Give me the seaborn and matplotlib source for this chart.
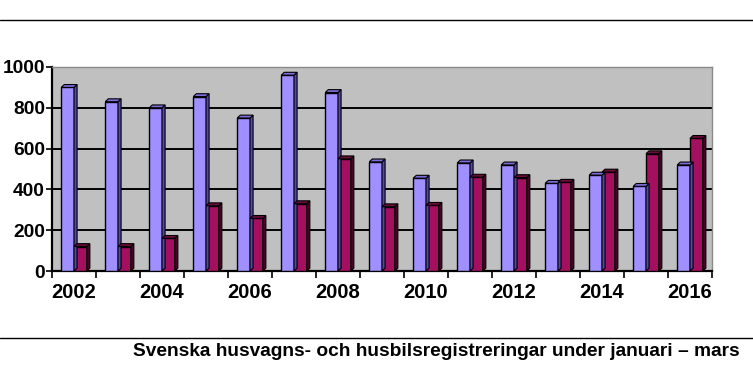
import numpy as np
import pandas as pd
import matplotlib.pyplot as plt
import seaborn as sns
from matplotlib.patches import Polygon
from matplotlib.lines import Line2D

# Data
years = [str(y) for y in range(2002, 2017)]
husvagnar = [900, 830, 800, 855, 750, 960, 875, 535, 455, 530, 520, 430, 470, 415, 520]
husbilar = [120, 120, 160, 320, 258, 330, 550, 315, 322, 460, 458, 435, 485, 575, 650]
series = ['Husvagnar', 'Husbilar']
colors = ['#a090ff', '#a50f5f']
side_colors = ['#5546a8', '#4a0428']
top_colors = ['#7d6cdc', '#6e0a3c']

df = pd.DataFrame({
    'year': years * 2,
    'value': husvagnar + husbilar,
    'serie': [series[0]] * len(years) + [series[1]] * len(years),
})

sns.set_style('white')
plt.rcParams['font.family'] = ['Liberation Sans', 'DejaVu Sans']
plt.rcParams['text.color'] = 'black'
plt.rcParams['xtick.labelcolor'] = 'black'
plt.rcParams['ytick.labelcolor'] = 'black'

fig = plt.figure(figsize=(7.53, 3.90), dpi=100)
ax = fig.add_axes([52 / 753, (390 - 271) / 390, (712 - 52) / 753, (271 - 67) / 390])
ax.set_facecolor('#c0c0c0')

sns.barplot(data=df, x='year', y='value', hue='serie', palette=colors,
            saturation=1, width=0.58, edgecolor='black', linewidth=1.0, ax=ax,
            legend=False, zorder=3)

# fake 3D faces on each bar
dx, dy = 0.07, 14
for i, p in enumerate(ax.patches[:len(years) * 2]):
    k = i // len(years)
    x, w, h = p.get_x(), p.get_width(), p.get_height()
    side = Polygon([(x + w, 0), (x + w + dx, dy), (x + w + dx, h + dy), (x + w, h)],
                   closed=True, facecolor=side_colors[k], edgecolor='black',
                   linewidth=0.8, zorder=3, clip_on=False)
    top = Polygon([(x, h), (x + dx, h + dy), (x + w + dx, h + dy), (x + w, h)],
                  closed=True, facecolor=top_colors[k], edgecolor='black',
                  linewidth=0.8, zorder=3, clip_on=False)
    ax.add_patch(side)
    ax.add_patch(top)

ax.set_xlim(-0.5, len(years) - 0.5)
ax.set_ylim(0, 1000)
ax.set_yticks(range(0, 1001, 200))
ax.yaxis.grid(True, color='black', linewidth=1.4)
ax.set_axisbelow(True)

ax.set_xticks(range(0, len(years), 2))
ax.set_xticklabels(years[::2])
ax.set_xticks(np.arange(-0.5, len(years), 1.0), minor=True)
ax.tick_params(axis='x', which='major', length=0, pad=9, labelsize=14.5)
ax.tick_params(axis='x', which='minor', length=5, width=1.2, direction='out', color='black')
ax.tick_params(axis='y', length=4, width=1.2, direction='out', color='black', labelsize=13.8, pad=1)
ax.xaxis.set_tick_params(bottom=True, which='both')
ax.yaxis.set_tick_params(left=True)
for lab in ax.get_xticklabels() + ax.get_yticklabels():
    lab.set_fontweight('bold')

ax.set_xlabel('')
ax.set_ylabel('')
for s in ['top', 'right']:
    ax.spines[s].set_color('#8a8a8a')
    ax.spines[s].set_linewidth(1.0)
for s in ['left', 'bottom']:
    ax.spines[s].set_color('black')
    ax.spines[s].set_linewidth(1.6)

# page rules and caption
fig.add_artist(Line2D([0, 1], [1 - 20 / 390, 1 - 20 / 390], color='black', linewidth=1.0))
fig.add_artist(Line2D([0, 1], [1 - 338 / 390, 1 - 338 / 390], color='black', linewidth=1.0))
fig.text(740 / 753, 1 - 352 / 390, 'Svenska husvagns- och husbilsregistreringar under januari \u2013 mars',
         ha='right', va='center', fontsize=13.8, fontweight='bold')

fig.savefig('out.png', dpi=100)
